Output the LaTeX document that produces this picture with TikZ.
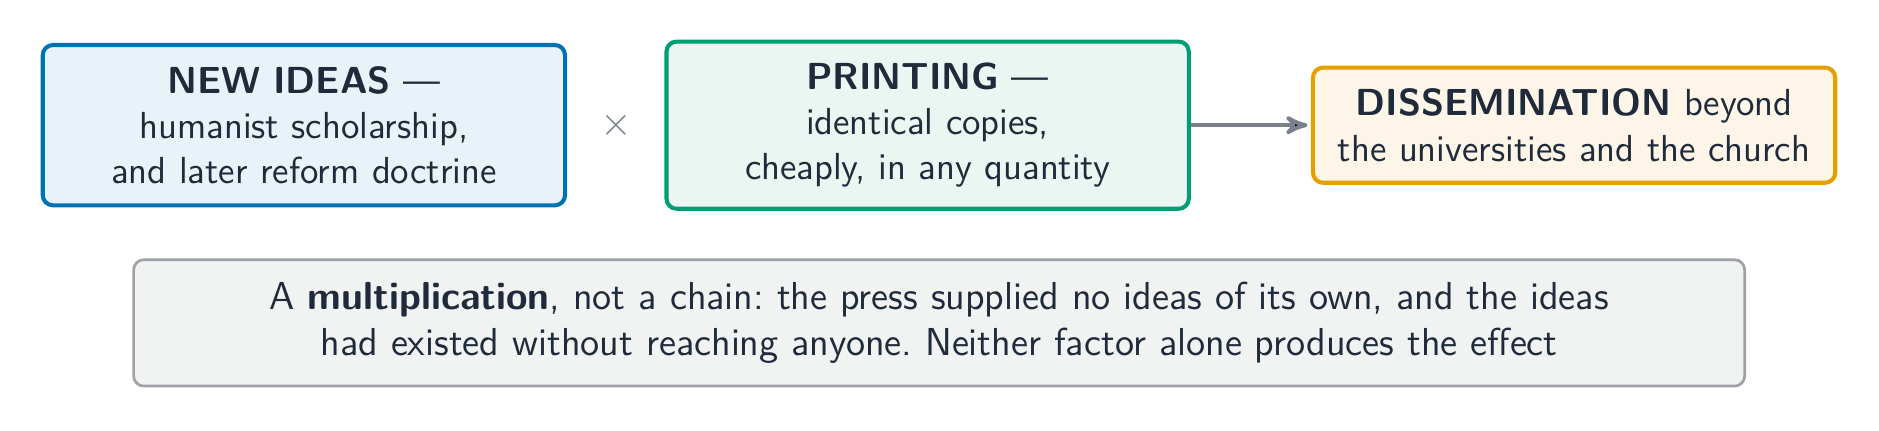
\documentclass[tikz,border=0pt]{standalone}
\usepackage{fontspec}
\usetikzlibrary{arrows}

\definecolor{inkdark}{HTML}{1F2A3A}
\definecolor{ideasline}{HTML}{0072B2}
\definecolor{ideasfill}{HTML}{EAF2F9}
\definecolor{pressline}{HTML}{009E73}
\definecolor{pressfill}{HTML}{EBF6F2}
\definecolor{spreadline}{HTML}{E69F00}
\definecolor{spreadfill}{HTML}{FDF6E8}
\definecolor{noteline}{HTML}{9EA1A8}
\definecolor{notefill}{HTML}{F1F2F2}
\definecolor{linkgray}{HTML}{7A818C}

\frenchspacing
\begin{document}
\begin{tikzpicture}[->,>=stealth',auto,
  every node/.style={font=\sffamily\fontsize{11.1}{13.3}\selectfont,text=inkdark},
  factor box/.style={rectangle,rounded corners=3pt,line width=1.2pt,align=center,
    text width=142pt,inner xsep=6pt,inner ysep=6.3pt},
  note box/.style={rectangle,rounded corners=3pt,line width=0.8pt,draw=noteline,
    fill=notefill,align=center,text width=463pt,inner xsep=6pt,inner ysep=6.6pt,
    font=\sffamily\fontsize{11.5}{13.6}\selectfont}]

  \useasboundingbox (0,0) rectangle (554pt,-126.8pt);

  \node[factor box,draw=ideasline,fill=ideasfill] (ideas) at (89.6pt,-36.9pt)
    {\textbf{NEW IDEAS} ---\\humanist scholarship,\\and later reform doctrine};
  \node[factor box,draw=pressline,fill=pressfill] (press) [right of=ideas,node distance=183.9pt]
    {\textbf{PRINTING} ---\\identical copies,\\cheaply, in any quantity};
  \node[factor box,draw=spreadline,fill=spreadfill] (spread) [right of=press,node distance=190.6pt]
    {\textbf{DISSEMINATION} beyond\\the universities and the church};
  \node[text=linkgray,font=\large] (times) [right of=ideas,node distance=92pt] {$\times$};
  \node[note box] (note) at (276.9pt,-95.2pt)
    {A \textbf{multiplication}, not a chain: the press supplied no ideas of its own, and the ideas\\
     had existed without reaching anyone. Neither factor alone produces the effect};

  \path[draw=linkgray,line width=1.2pt,shorten >=1pt]
    (press) edge (spread);
\end{tikzpicture}
\end{document}
